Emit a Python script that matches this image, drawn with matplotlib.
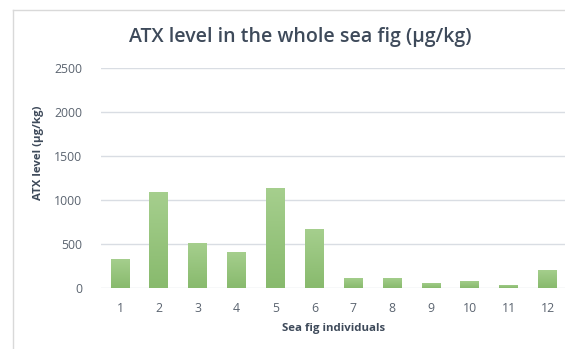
import numpy as np
import matplotlib
matplotlib.use("Agg")
import matplotlib.pyplot as plt
from matplotlib.lines import Line2D

plt.rcParams['font.family'] = ['Open Sans', 'DejaVu Sans']

# Data
individuals = ['1', '2', '3', '4', '5', '6', '7', '8', '9', '10', '11', '12']
atx_levels = [333, 1098, 511, 409, 1143, 670, 120, 120, 57, 83, 41, 205]
y_ticks = [0, 500, 1000, 1500, 2000, 2500]

title_col = '#3e4a5a'
tick_col = '#5b6470'
grid_col = '#d9dde3'

fig = plt.figure(figsize=(5.65, 3.49), dpi=100)
fig.patch.set_facecolor('white')

# chart-area frame (left and top edges)
fig.add_artist(Line2D([13/565, 13/565], [0, 1 - 10/349], color='#d9d9d9', lw=1.0,
                      transform=fig.transFigure))
fig.add_artist(Line2D([13/565, 1.0], [1 - 10/349, 1 - 10/349], color='#d9d9d9', lw=1.0,
                      transform=fig.transFigure))

left, right = 100.5 / 565, 567 / 565
bottom, top = (349 - 288.3) / 349, (349 - 68) / 349
ax = fig.add_axes([left, bottom, right - left, top - bottom])
ax.set_facecolor('none')

x = np.arange(len(individuals))
bars = ax.bar(x, atx_levels, width=0.48, color='#98c47e', zorder=2)

# vertical gradient fill inside each bar
grad = np.linspace(0, 1, 256).reshape(-1, 1)
cmap = matplotlib.colors.LinearSegmentedColormap.from_list('g', ['#88ba6d', '#a6cf8e'])
for b in bars:
    x0, w, h = b.get_x(), b.get_width(), b.get_height()
    im = ax.imshow(grad, cmap=cmap, aspect='auto', origin='lower',
                   extent=[x0, x0 + w, 0, h], zorder=3)
    im.set_clip_path(b)

ax.set_xlim(-0.5, len(individuals) - 0.5)
ax.set_ylim(0, 2500)
ax.set_yticks(y_ticks)
ax.set_xticks(x)
ax.set_xticklabels(individuals)
ax.yaxis.grid(True, color=grid_col, lw=1.0, zorder=0)
ax.set_axisbelow(True)
for s in ax.spines.values():
    s.set_visible(False)
ax.tick_params(axis='both', length=0, labelsize=8.8, colors=tick_col)
ax.tick_params(axis='x', pad=10)
ax.tick_params(axis='y', pad=13)

fig.text(300 / 565, 1 - 37 / 349, 'ATX level in the whole sea fig (µg/kg)',
         ha='center', va='center', fontsize=14, fontweight='semibold', color=title_col)
fig.text(334 / 565, 1 - 328 / 349, 'Sea fig individuals', ha='center', va='center',
         fontsize=8.2, fontweight='bold', color=title_col)
fig.text(38 / 565, 1 - 153 / 349, 'ATX level (µg/kg)', ha='center', va='center',
         rotation=90, fontsize=8.2, fontweight='bold', color=title_col)

fig.savefig('out.png', dpi=100)
